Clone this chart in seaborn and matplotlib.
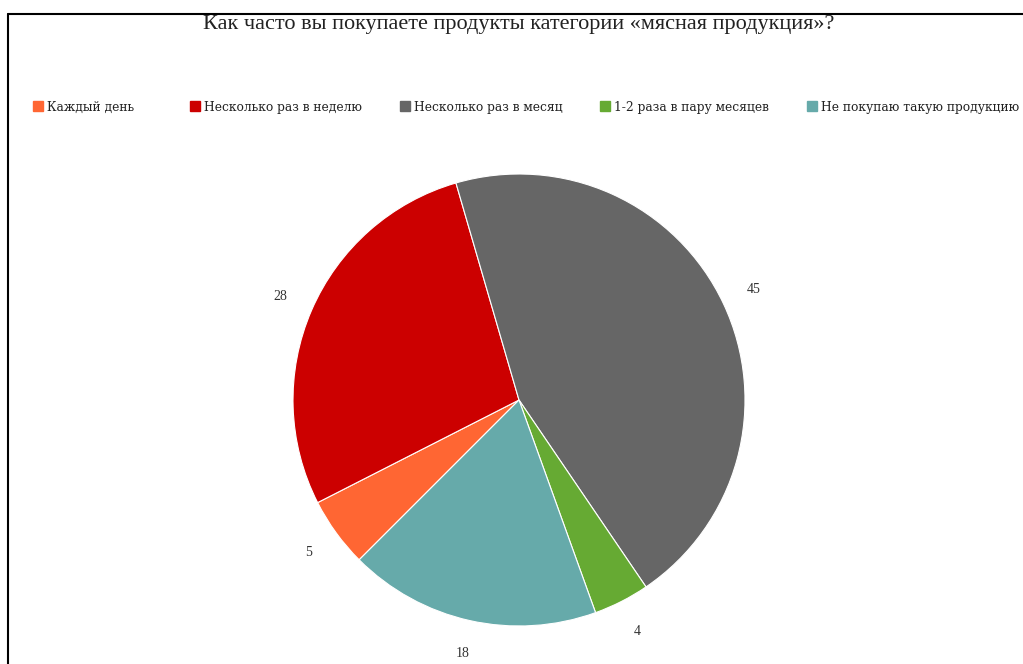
import matplotlib
matplotlib.use("Agg")
import matplotlib.pyplot as plt
import seaborn as sns
from matplotlib.lines import Line2D

sns.set_theme(style="white")
plt.rcParams["font.family"] = ["Liberation Serif", "DejaVu Serif"]

# Survey answers and their counts
categories = [
    "Каждый день",
    "Несколько раз в неделю",
    "Несколько раз в месяц",
    "1-2 раза в пару месяцев",
    "Не покупаю такую продукцию",
]
values = [5, 28, 45, 4, 18]
colors = ["#FF6633", "#CC0000", "#666666", "#66AA33", "#66AAAA"]
title = "Как часто вы покупаете продукты категории «мясная продукция»?"

W, H = 1023, 664
fig = plt.figure(figsize=(W / 100, H / 100), dpi=100)
fig.patch.set_facecolor("white")

# Pie axes: centre and radius in pixels
cx, cy, r = 519, 400, 226
ax = fig.add_axes([(cx - r) / W, (H - cy - r) / H, 2 * r / W, 2 * r / H])
wedges, texts = ax.pie(
    values,
    labels=[str(v) for v in values],
    colors=colors,
    startangle=225,
    counterclock=False,
    labeldistance=1.15,
    wedgeprops=dict(edgecolor="white", linewidth=0.8),
    textprops=dict(fontsize=10, color="#333333"),
)
for t in texts:
    t.set_horizontalalignment("center")
    t.set_verticalalignment("center")
ax.set_xlim(-1, 1)
ax.set_ylim(-1, 1)
ax.set_axis_off()

fig.text(cx / W, 1 - 24 / H, title, ha="center", va="center",
         fontsize=16, color="#222222")

# Legend row: one entry per category, placed at its own x position (px)
entry_x = [38, 195, 405, 605, 812]
for wedge, label, c, x in zip(wedges, categories, colors, entry_x):
    handle = Line2D([0], [0], marker="s", linestyle="none", markersize=6.5,
                    markerfacecolor=c, markeredgecolor=c)
    fig.legend([handle], [label], loc="center left",
               bbox_to_anchor=((x - 15) / W, 1 - 107 / H), frameon=False,
               prop=dict(family="DejaVu Serif", size=8.8),
               handlelength=0.6, handletextpad=0.45, labelcolor="#222222")

# Frame lines on the left and top edges
fig.add_artist(Line2D([8 / W, 8 / W], [0, 1 - 14 / H], color="black",
                      linewidth=1.5, transform=fig.transFigure))
fig.add_artist(Line2D([8 / W, 1], [1 - 14 / H, 1 - 14 / H], color="black",
                      linewidth=1.5, transform=fig.transFigure))

fig.savefig("out.png", dpi=100, facecolor="white")
